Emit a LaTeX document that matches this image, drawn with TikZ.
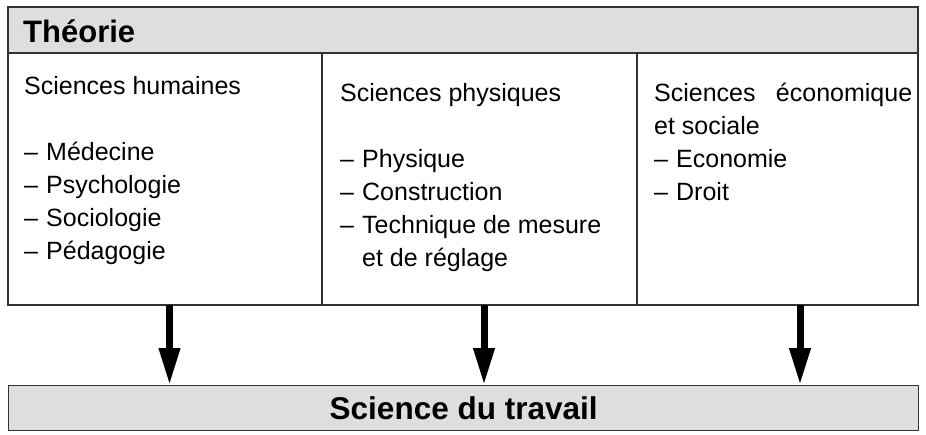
\documentclass[tikz,border=0pt]{standalone}
\usepackage{fontspec}
\setmainfont{Liberation Sans}
\usetikzlibrary{arrows.meta}
\definecolor{bandgray}{HTML}{DEDEDE}
\definecolor{linegray}{HTML}{333333}
\tikzset{
  frame/.style={draw=linegray, line width=1.3pt},
  band/.style={frame, fill=bandgray},
  coltext/.style={anchor=north west, inner sep=0pt, align=left, font=\fontsize{25}{33}\selectfont},
  bigarrow/.style={line width=7pt, -{Triangle[length=37pt,width=20pt]}},
}
\newcommand{\itemline}[1]{\makebox[22pt][l]{--}#1}
\begin{document}
\begin{tikzpicture}[x=1pt,y=-1pt]
\useasboundingbox (0,0) rectangle (926,434);
% top frame
\draw[band] (8,7) rectangle (918,53);
\draw[frame] (8,53) rectangle (918,305);
\draw[frame] (322,53) -- (322,305);
\draw[frame] (637,53) -- (637,305);
\node[anchor=west, inner sep=0pt, font=\fontsize{31}{31}\selectfont\bfseries] (title) at (23,31) {Théorie};
% columns
\node[coltext] (c1) at (24,76) {Sciences humaines\\[33pt]
\itemline{Médecine}\\
\itemline{Psychologie}\\
\itemline{Sociologie}\\
\itemline{Pédagogie}};
\node[coltext] (c2) at (340,83) {Sciences physiques\\[33pt]
\itemline{Physique}\\
\itemline{Construction}\\
\itemline{Technique de mesure}\\
\hspace*{22pt}et de réglage};
\node[coltext] (c3) at (654,83) {\makebox[258pt][s]{Sciences\hfill économique}\\
et sociale\\
\itemline{Economie}\\
\itemline{Droit}};
% bottom box
\node[band, minimum width=910pt, minimum height=45pt, inner sep=0pt, anchor=north west,
  font=\fontsize{31.5}{31.5}\selectfont\bfseries] (work) at (8,385) {Science du travail};
% arrows
\coordinate (a1) at (169.5,305);
\coordinate (a2) at (484,305);
\coordinate (a3) at (800,305);
\draw[bigarrow] (a1) -- (a1 |- work.north);
\draw[bigarrow] (a2) -- (a2 |- work.north);
\draw[bigarrow] (a3) -- (a3 |- work.north);
\end{tikzpicture}
\end{document}
